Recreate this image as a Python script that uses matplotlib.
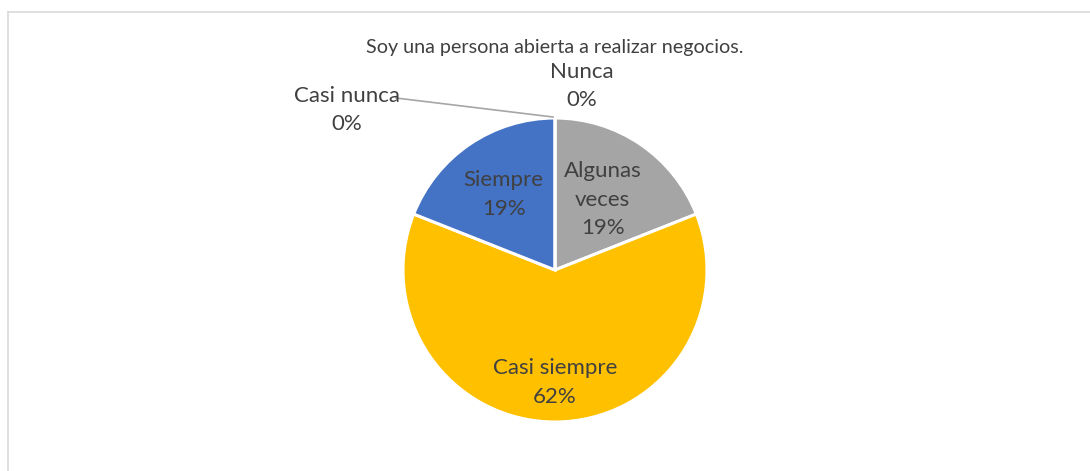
import numpy as np
import matplotlib.pyplot as plt

plt.rcParams['font.family'] = ['Lato', 'DejaVu Sans']

# Data (clockwise from 12 o'clock)
categories = ['Nunca', 'Algunas veces', 'Casi siempre', 'Siempre', 'Casi nunca']
values = [0, 19, 62, 19, 0]
colors = ['#5B9BD5', '#A5A5A5', '#FFC000', '#4472C4', '#ED7D31']
title = 'Soy una persona abierta a realizar negocios.'

W, H = 1090, 471
fig = plt.figure(figsize=(W / 100, H / 100), dpi=100)
ax = fig.add_axes([0, 0, 1, 1])

cx, cy, R = 555, H - 270, 152
wedges, _ = ax.pie(values, colors=colors, startangle=90, counterclock=False,
                   center=(cx, cy), radius=R,
                   wedgeprops=dict(edgecolor='white', linewidth=2.2))
ax.set_xlim(0, W)
ax.set_ylim(0, H)
ax.set_aspect('equal')
ax.axis('off')

# chart area border (top and left visible)
ax.plot([8, W], [H - 12, H - 12], color='#D9D9D9', lw=1.2, clip_on=False)
ax.plot([8, 8], [0, H - 12], color='#D9D9D9', lw=1.2, clip_on=False)

txt = '#404040'
fs = 16
ls = 1.55
ax.text(cx, H - 47, title, ha='center', va='center', fontsize=14.2, color=txt)

# inside labels placed along the wedge mid angle
inside = {'Algunas veces': 0.56, 'Casi siempre': 0.74, 'Siempre': 0.6}
for w, cat, v in zip(wedges, categories, values):
    mid = np.deg2rad((w.theta1 + w.theta2) / 2)
    if cat in inside:
        f = inside[cat]
        x = cx + f * R * np.cos(mid)
        y = cy + f * R * np.sin(mid)
        lab = cat.replace(' ', '\n') if cat == 'Algunas veces' else cat
        ax.text(x, y, f'{lab}\n{v}%', ha='center', va='center', fontsize=fs,
                color=txt, linespacing=ls)

# zero-value labels outside the pie
ax.text(582, H - 86, f'Nunca\n{values[0]}%', ha='center', va='center',
        fontsize=fs, color=txt, linespacing=ls)
ax.text(347, H - 110, f'Casi nunca\n{values[4]}%', ha='center', va='center',
        fontsize=fs, color=txt, linespacing=ls)
ax.plot([396, cx - 2], [H - 98, cy + R + 1], color='#A6A6A6', lw=1.2)

fig.savefig('out.png', dpi=100)
